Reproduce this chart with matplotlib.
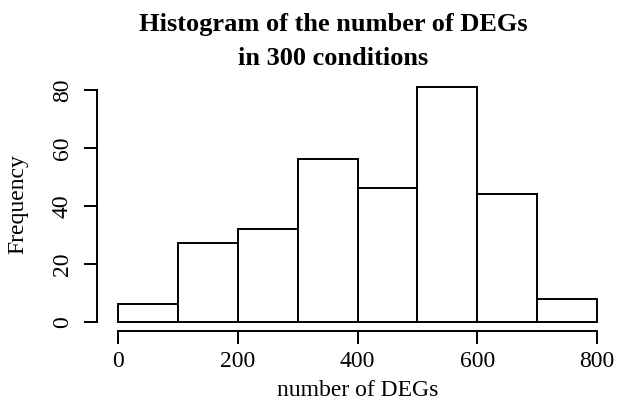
import matplotlib
matplotlib.use("Agg")
import matplotlib.pyplot as plt
import numpy as np

bin_edges = [0, 100, 200, 300, 400, 500, 600, 700, 800]
counts = [6, 27, 32, 56, 46, 81, 44, 8]
x_ticks = [0, 200, 400, 600, 800]
y_ticks = [0, 20, 40, 60, 80]

plt.rcParams['font.family'] = ['Liberation Serif', 'DejaVu Serif']

fig = plt.figure(figsize=(6.17, 4.03), dpi=100)
ax = fig.add_axes([97 / 617, 72.3 / 403, 521 / 617, 253 / 403])

lefts = np.array(bin_edges[:-1])
widths = np.diff(bin_edges)
ax.bar(lefts, counts, width=widths, align='edge', color='white',
       edgecolor='black', linewidth=1.4)

# R-style padding around the data range
ax.set_xlim(-35, 835)
ax.set_ylim(-3.1, 84.2)

for s in ['top', 'right']:
    ax.spines[s].set_visible(False)
ax.spines['left'].set_bounds(0, 80)
ax.spines['bottom'].set_bounds(0, 800)
for s in ['left', 'bottom']:
    ax.spines[s].set_linewidth(1.4)

ax.set_xticks(x_ticks)
ax.set_yticks(y_ticks)
ax.set_yticklabels([str(v) for v in y_ticks], rotation=90, va='center')
ax.tick_params(axis='both', length=9.5, width=1.4, labelsize=17)
ax.tick_params(axis='x', pad=5)
ax.tick_params(axis='y', pad=8)

ax.set_xlabel('number of DEGs', fontsize=17, labelpad=6)
ax.set_ylabel('Frequency', fontsize=17, labelpad=17)
ax.set_title('Histogram of the number of DEGs\nin 300 conditions',
             fontsize=19, fontweight='bold', x=0.453, pad=9,
             linespacing=1.6)

fig.savefig('out.png', dpi=100)
